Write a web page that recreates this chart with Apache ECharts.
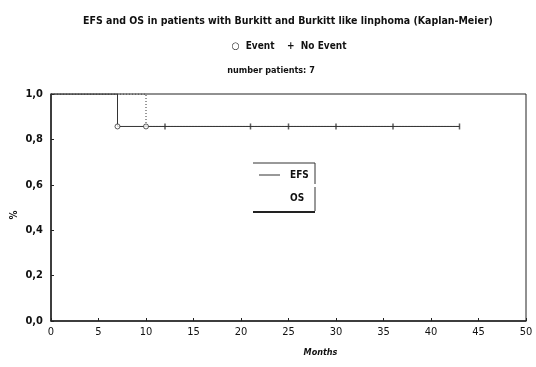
<!DOCTYPE html>
<html><head><meta charset="utf-8">
<script src="https://cdn.jsdelivr.net/npm/echarts@6/dist/echarts.min.js"></script>
<style>html,body{margin:0;padding:0;background:#fff}#c{width:536px;height:367px}</style>
</head><body><div id="c"></div>
<script>
const titleText = 'EFS and OS in patients with Burkitt and Burkitt like linphoma (Kaplan-Meier)';
const subText = '\u25CB  Event    +  No Event';
const countText = 'number patients: 7';
const xTicks = [0,5,10,15,20,25,30,35,40,45,50];
const yTicks = [0,0.2,0.4,0.6,0.8,1.0];
// Kaplan-Meier step points (months, survival)
const efsSteps = [[0,1],[7,1],[7,0.857],[43,0.857]];
const osSteps = [[0,1],[10,1],[10,0.857],[43,0.857]];
const events = [[7,0.857],[10,0.857]];
const censored = [[12,0.857],[21,0.857],[25,0.857],[30,0.857],[36,0.857],[43,0.857]];

const FONT = '"DejaVu Sans Condensed","Liberation Sans Narrow",sans-serif';
const chart = echarts.init(document.getElementById('c'));
chart.setOption({
  animation:false,
  backgroundColor:'#fff',
  title:[
    {text:titleText,left:283,textAlign:'center',top:11,textStyle:{fontFamily:FONT,fontSize:10.5,fontWeight:'bold',color:'#111'}},
    {text:subText,left:284,textAlign:'center',top:36,textStyle:{fontFamily:FONT,fontSize:10,fontWeight:'bold',color:'#111'}},
    {text:countText,left:266,textAlign:'center',top:61,textStyle:{fontFamily:FONT,fontSize:9,fontWeight:'bold',color:'#111'}}
  ],
  grid:{left:51,right:10,top:94,bottom:46,show:true,borderColor:'#222',borderWidth:1},
  xAxis:{type:'value',min:0,max:50,interval:5,name:'Months',nameLocation:'middle',nameGap:27,
    nameTextStyle:{fontFamily:FONT,fontSize:9,fontWeight:'bold',fontStyle:'italic',color:'#111',padding:[0,0,0,64]},
    axisLine:{lineStyle:{color:'#222',width:1.5}},
    axisTick:{inside:true,length:3,lineStyle:{color:'#222'}},
    axisLabel:{fontFamily:FONT,fontSize:11,color:'#111',margin:6},
    splitLine:{show:false}},
  yAxis:{type:'value',min:0,max:1,interval:0.2,
    axisLine:{show:true,lineStyle:{color:'#222',width:1.5}},
    axisTick:{show:true,inside:true,length:3,lineStyle:{color:'#222'}},
    axisLabel:{fontFamily:FONT,fontSize:11,fontWeight:'bold',color:'#111',margin:8,
      formatter:v=>v.toFixed(1).replace('.',',')},
    splitLine:{show:false}},
  series:[
    {name:'OS',type:'line',data:osSteps,symbol:'none',lineStyle:{color:'#333',width:1,type:[1,2]},z:2},
    {name:'EFS',type:'line',data:efsSteps,symbol:'none',lineStyle:{color:'#333',width:1},z:3},
    {type:'scatter',data:events,symbol:'circle',symbolSize:5,itemStyle:{color:'#fff',borderColor:'#333',borderWidth:1},z:5},
    {type:'scatter',data:censored,symbol:'rect',symbolSize:[1.5,6],itemStyle:{color:'#333'},z:5}
  ],
  graphic:[
    {type:'text',x:14,y:215,rotation:Math.PI/2,style:{text:'%',fill:'#111',font:'bold 10px '+FONT,textAlign:'center',textVerticalAlign:'middle'}},
    {type:'line',shape:{x1:253,y1:163,x2:315,y2:163},style:{stroke:'#333',lineWidth:1}},
    {type:'line',shape:{x1:315,y1:163,x2:315,y2:184},style:{stroke:'#333',lineWidth:1}},
    {type:'line',shape:{x1:315,y1:187,x2:315,y2:211},style:{stroke:'#333',lineWidth:1}},
    {type:'line',shape:{x1:253,y1:212,x2:315,y2:212},style:{stroke:'#222',lineWidth:2}},
    {type:'line',shape:{x1:259,y1:175,x2:280,y2:175},style:{stroke:'#333',lineWidth:1}},
    {type:'text',x:290,y:175,style:{text:'EFS',fill:'#111',font:'bold 10px '+FONT,textVerticalAlign:'middle'}},
    {type:'text',x:290,y:198,style:{text:'OS',fill:'#111',font:'bold 10px '+FONT,textVerticalAlign:'middle'}}
  ]
});
</script></body></html>
